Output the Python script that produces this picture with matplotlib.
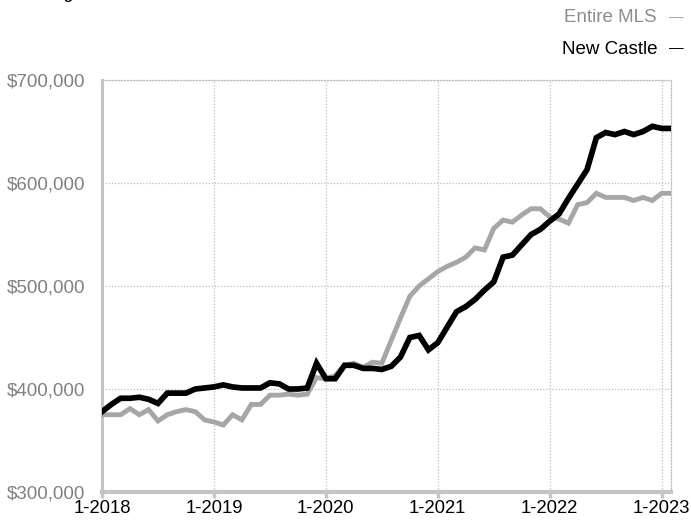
import matplotlib.pyplot as plt
import numpy as np

# monthly values, Jan 2018 .. Feb 2023 (in $)
months = np.arange(62)
new_castle = [378, 385, 391, 391, 392, 390, 386, 396, 396, 396, 400, 401,
              402, 404, 402, 401, 401, 401, 406, 405, 400, 400, 401, 425,
              410, 410, 423, 423, 420, 420, 419, 422, 431, 450, 452, 438,
              445, 460, 475, 480, 487, 496, 504, 528, 530, 540, 550, 555,
              563, 570, 585, 599, 613, 644, 649, 647, 650, 647, 650, 655,
              653, 653]
entire_mls = [375, 375, 375, 381, 375, 380, 369, 375, 378, 380, 378, 370,
              368, 365, 375, 370, 385, 385, 394, 394, 395, 394, 395, 411,
              410, 413, 423, 425, 421, 426, 425, 447, 469, 490, 500, 507,
              514, 519, 523, 528, 537, 535, 556, 564, 562, 569, 575, 575,
              567, 565, 561, 579, 581, 590, 586, 586, 586, 583, 586, 583,
              590, 590]
new_castle = np.array(new_castle) * 1000
entire_mls = np.array(entire_mls) * 1000

xtick_pos = [0, 12, 24, 36, 48, 60]
xtick_labels = ['1-2018', '1-2019', '1-2020', '1-2021', '1-2022', '1-2023']
ytick_vals = [300000, 400000, 500000, 600000, 700000]

plt.rcParams['font.family'] = ['Liberation Sans', 'DejaVu Sans']

fig = plt.figure(figsize=(6.91, 5.25), dpi=100)
ax = fig.add_axes([102 / 691, 1 - 492 / 525, 569 / 691, 412 / 525])

ax.plot(months, entire_mls, color='#a6a6a6', linewidth=3.5, solid_joinstyle='miter', zorder=3)
ax.plot(months, new_castle, color='black', linewidth=4.1, solid_joinstyle='miter', zorder=4)

ax.set_xlim(0, 61)
ax.set_ylim(300000, 700000)
ax.set_xticks(xtick_pos)
ax.set_xticklabels(xtick_labels, fontsize=13.3, color='black')
ax.set_yticks(ytick_vals)
ax.set_yticklabels([f'${v:,.0f}' for v in ytick_vals], fontsize=13.5, color='#808080')

ax.grid(True, linestyle=(0, (1, 1.5)), color='#bdbdbd', linewidth=0.9)
ax.set_axisbelow(True)

for side in ['top', 'right']:
    ax.spines[side].set_linestyle((0, (1, 1.5)))
    ax.spines[side].set_color('#bdbdbd')
    ax.spines[side].set_linewidth(0.9)
ax.spines['left'].set_color('#c4c4c4')
ax.spines['left'].set_linewidth(2.2)
ax.spines['bottom'].set_color('#c4c4c4')
ax.spines['bottom'].set_linewidth(3)

ax.tick_params(axis='x', length=4, width=2.5, color='#c4c4c4', pad=1.5)
ax.tick_params(axis='y', length=0, pad=12)

# legend as right-aligned text
fig.text(657 / 691, 1 - 18 / 525, 'Entire MLS', ha='right', va='center',
         fontsize=13.5, color='#8c8c8c')
fig.text(684 / 691, 1 - 17 / 525, '\u2014', ha='right', va='center',
         fontsize=10.5, color='#a6a6a6')
fig.text(657 / 691, 1 - 49 / 525, 'New Castle', ha='right', va='center',
         fontsize=13.5, color='black')
fig.text(684 / 691, 1 - 48 / 525, '\u2014', ha='right', va='center',
         fontsize=10.5, color='black')

# title cut off at top edge, as in the source image
fig.text(18 / 691, 1 + 1.5 / 525, 'Rolling 12-Month Calculation', ha='left',
         va='baseline', fontsize=13, color='black')

fig.savefig('out.png', dpi=100)
